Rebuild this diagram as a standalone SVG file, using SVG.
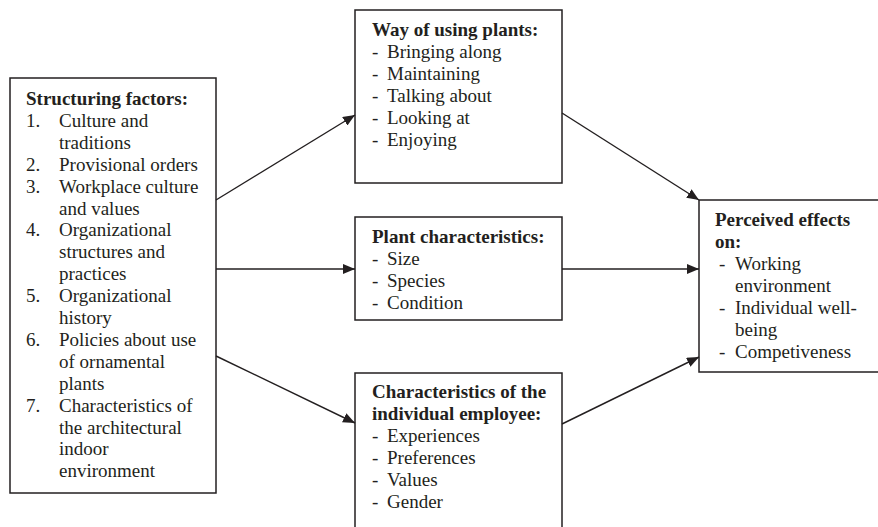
<svg xmlns="http://www.w3.org/2000/svg" width="878" height="527" viewBox="0 0 878 527">
<style>
.box{fill:#fff;stroke:#231f20;stroke-width:1.5}
text{font-family:"Liberation Serif","Times New Roman",serif;font-size:19px;fill:#231f20}
.b{font-weight:bold}
.c line{stroke:#231f20;stroke-width:1.4;fill:none}
</style>
<defs>
<marker id="ah" viewBox="0 0 12 10" refX="12" refY="5" markerWidth="12" markerHeight="10" markerUnits="userSpaceOnUse" orient="auto">
<path d="M0,0 L12,5 L0,10 Z" fill="#231f20"/>
</marker>
</defs>
<rect width="878" height="527" fill="#fff"/>
<g id="structuring">
<rect class="box" x="10" y="78" width="206" height="415"/>
<text class="b" x="26" y="105">Structuring factors:</text>
<text x="26" y="126.9">1.</text><text x="59" y="126.9">Culture and</text>
<text x="59" y="148.8">traditions</text>
<text x="26" y="170.7">2.</text><text x="59" y="170.7">Provisional orders</text>
<text x="26" y="192.6">3.</text><text x="59" y="192.6">Workplace culture</text>
<text x="59" y="214.5">and values</text>
<text x="26" y="236.4">4.</text><text x="59" y="236.4">Organizational</text>
<text x="59" y="258.3">structures and</text>
<text x="59" y="280.2">practices</text>
<text x="26" y="302.1">5.</text><text x="59" y="302.1">Organizational</text>
<text x="59" y="324">history</text>
<text x="26" y="345.9">6.</text><text x="59" y="345.9">Policies about use</text>
<text x="59" y="367.8">of ornamental</text>
<text x="59" y="389.7">plants</text>
<text x="26" y="411.6">7.</text><text x="59" y="411.6">Characteristics of</text>
<text x="59" y="433.5">the architectural</text>
<text x="59" y="455.4">indoor</text>
<text x="59" y="477.3">environment</text>
</g>
<g id="way">
<rect class="box" x="355" y="10" width="207" height="173"/>
<text class="b" x="372" y="36">Way of using plants:</text>
<text x="372" y="58">-</text><text x="387" y="58">Bringing along</text>
<text x="372" y="80">-</text><text x="387" y="80">Maintaining</text>
<text x="372" y="102">-</text><text x="387" y="102">Talking about</text>
<text x="372" y="124">-</text><text x="387" y="124">Looking at</text>
<text x="372" y="146">-</text><text x="387" y="146">Enjoying</text>
</g>
<g id="plant">
<rect class="box" x="355" y="217" width="207" height="103"/>
<text class="b" x="372" y="243">Plant characteristics:</text>
<text x="372" y="265">-</text><text x="387" y="265">Size</text>
<text x="372" y="287">-</text><text x="387" y="287">Species</text>
<text x="372" y="309">-</text><text x="387" y="309">Condition</text>
</g>
<g id="employee">
<rect class="box" x="355" y="373" width="207" height="160"/>
<text class="b" x="372" y="398">Characteristics of the</text>
<text class="b" x="372" y="420">individual employee:</text>
<text x="372" y="442">-</text><text x="387" y="442">Experiences</text>
<text x="372" y="464">-</text><text x="387" y="464">Preferences</text>
<text x="372" y="486">-</text><text x="387" y="486">Values</text>
<text x="372" y="508">-</text><text x="387" y="508">Gender</text>
</g>
<g id="effects">
<rect class="box" x="699" y="200" width="185" height="172"/>
<text class="b" x="715" y="226">Perceived effects</text>
<text class="b" x="715" y="248">on:</text>
<text x="719" y="270">-</text><text x="735" y="270">Working</text>
<text x="735" y="292">environment</text>
<text x="719" y="314">-</text><text x="735" y="314">Individual well-</text>
<text x="735" y="336">being</text>
<text x="719" y="358">-</text><text x="735" y="358">Competiveness</text>
</g>
<g id="connectors" class="c">
<line x1="216" y1="200" x2="355" y2="115" marker-end="url(#ah)"/>
<line x1="216" y1="269" x2="355" y2="269" marker-end="url(#ah)"/>
<line x1="216" y1="356" x2="355" y2="423" marker-end="url(#ah)"/>
<line x1="562" y1="113" x2="699" y2="200" marker-end="url(#ah)"/>
<line x1="562" y1="269" x2="699" y2="269" marker-end="url(#ah)"/>
<line x1="562" y1="424" x2="699" y2="357" marker-end="url(#ah)"/>
</g>
</svg>
